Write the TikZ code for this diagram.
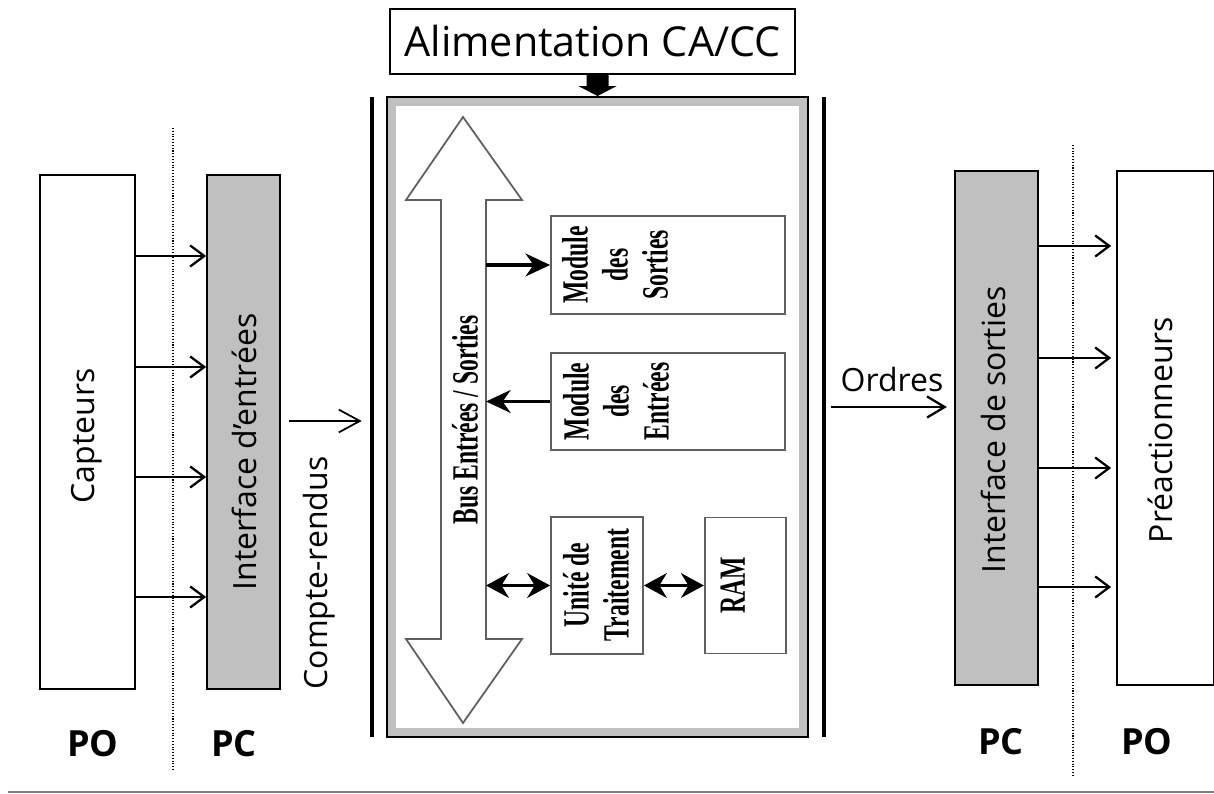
\documentclass[tikz,border=0pt]{standalone}
\usepackage{fontspec}
\setmainfont{Open Sans}
\newfontfamily\narrowserif[FakeStretch=0.64]{Liberation Serif}
\usetikzlibrary{arrows.meta,positioning}

\definecolor{boxgray}{RGB}{192,192,192}
\definecolor{edgegray}{RGB}{95,95,95}

\tikzset{
  part/.style = {draw = black, line width = 1.3pt, minimum width = 1.9cm,
                 minimum height = 10.28cm, inner sep = 0pt},
  iface/.style = {part, fill = boxgray},
  module/.style = {draw = edgegray, line width = 1pt, inner sep = 0pt},
  bar/.style = {fill = black, minimum width = 2.8pt, minimum height = 12.8cm,
                inner sep = 0pt},
  txt/.style = {font = \fontsize{18.2}{20}\selectfont},
  zone/.style = {font = \bfseries\fontsize{20.5}{22}\selectfont},
  modtext/.style = {font = \narrowserif\bfseries\fontsize{21}{22.7}\selectfont,
                    align = center, rotate = 90, inner sep = 0pt},
  divider/.style = {densely dotted, line width = 0.6pt},
  sig/.style = {-{Straight Barb[length = 8pt, width = 12pt]}, line width = 1.3pt},
  report/.style = {-{Straight Barb[length = 12pt, width = 13pt]}, line width = 1pt},
  order/.style = {-{Straight Barb[length = 10pt, width = 12pt]}, line width = 1.3pt},
  busout/.style = {-{Stealth[length = 14pt, width = 13pt]}, line width = 2pt},
  duplex/.style = {{Stealth[length = 13pt, width = 14pt]}-{Stealth[length = 13pt, width = 14pt]},
                   line width = 2pt}
}

\begin{document}
\begin{tikzpicture}[
    line join = miter % sharp corners on the arrows
    ]
  \useasboundingbox (0,0) rectangle (24.28,15.88);

  % power supply
  \node[draw, line width = 1.3pt, minimum width = 8.1cm, minimum height = 1.3cm,
        font = \fontsize{23.5}{25}\selectfont] (alim) at (11.85,15.05) {Alimentation CA/CC};

  % automate: grey frame, white inside
  \node[draw = black, line width = 1.1pt, fill = boxgray, minimum width = 8.42cm,
        minimum height = 12.8cm] (cpu) at (11.95,7.54) {};
  \fill[white] ([shift = {(0.2,0.2)}]cpu.south west) rectangle ([shift = {(-0.2,-0.2)}]cpu.north east);

  \node[bar] (barl) at (7.44,7.54) {};
  \node[bar] (barr) at (16.48,7.54) {};

  % supply arrow
  \coordinate (pw) at (alim.south -| cpu.north);
  \fill ([xshift = -0.22cm]pw) -- ([xshift = 0.22cm]pw) -- ([shift = {(0.22,-0.22)}]pw)
    -- ([shift = {(0.38,-0.22)}]pw) -- (cpu.north) -- ([shift = {(-0.38,-0.22)}]pw)
    -- ([shift = {(-0.22,-0.22)}]pw) -- cycle;

  % bus
  \draw[edgegray, line width = 1pt, fill = white] (9.26,13.54) -- (10.44,11.88) -- (9.72,11.88)
    -- (9.72,3.10) -- (10.44,3.10) -- (9.26,1.42) -- (8.12,3.10) -- (8.82,3.10)
    -- (8.82,11.88) -- (8.12,11.88) -- cycle;
  \coordinate (busr) at (9.72,7.5);
  \node[modtext] (t_bus) at (9.30,7.48) {Bus Entrées / Sorties};

  % modules
  \node[module, minimum width = 4.68cm, minimum height = 1.96cm] (mod_out) at (13.36,10.58) {};
  \node[modtext] (t_out) at (12.30,10.58) {Module\\des\\Sorties};
  \node[module, minimum width = 4.68cm, minimum height = 1.94cm] (mod_in) at (13.36,7.85) {};
  \node[modtext] (t_in) at (12.32,7.85) {Module\\des\\Entrées};
  \node[module, minimum width = 1.84cm, minimum height = 2.74cm] (unite) at (11.94,4.17) {};
  \node[modtext] (t_unite) at (11.92,4.18) {Unité de\\Traitement};
  \node[module, minimum width = 1.62cm, minimum height = 2.72cm, right = 1.2cm of unite] (ram) {};
  \node[modtext] (t_ram) at ([xshift = -0.25cm]ram.center) {RAM};

  \draw[busout] (busr |- mod_out.west) -- (mod_out.west);
  \draw[busout] (mod_in.west) -- (busr |- mod_in.west);
  \draw[duplex] (busr |- unite.west) -- (unite.west);
  \draw[duplex] (unite.east) -- (ram.west |- unite.east);

  % input side
  \node[part] (capteurs) at (1.75,7.24) {};
  \node[iface, minimum width = 1.46cm, right = 1.4cm of capteurs] (iface_in) {};
  \node[txt, rotate = 90] (t_capt) at (1.74,7.16) {Capteurs};
  \node[txt, rotate = 90] (t_iin) at (4.88,6.84) {Interface d'entrées};
  \draw[divider] (3.46,13.32) -- (3.46,0.48);
  \foreach \y in {10.76,8.54,6.34,3.94}
    \draw[sig] (capteurs.east |- 0,\y) -- (iface_in.west |- 0,\y);
  \draw[report, shorten <= 0.16cm, shorten >= 0.15cm] (iface_in.east |- 0,7.46) -- (barl.west |- 0,7.46);
  \node[txt, rotate = 90] (t_cr) at (6.38,4.42) {Compte-rendus};

  % output side
  \node[iface, minimum width = 1.66cm] (iface_out) at (19.93,7.32) {};
  \node[part, minimum width = 1.94cm, right = 1.54cm of iface_out] (preact) {};
  \node[txt, rotate = 90] (t_iout) at (19.86,7.28) {Interface de sorties};
  \node[txt, rotate = 90] (t_pre) at (23.2,7.28) {Préactionneurs};
  \draw[divider] (21.46,12.98) -- (21.46,0.38);
  \foreach \y in {10.96,8.72,6.52,4.14}
    \draw[sig, shorten >= 0.1cm] (iface_out.east |- 0,\y) -- (preact.west |- 0,\y);
  \draw[order, shorten <= 0.09cm, shorten >= 0.14cm] (barr.east |- 0,7.74) -- (iface_out.west |- 0,7.74);
  \node[txt] (t_ord) at (17.84,8.28) {Ordres};

  % PO / PC
  \node[zone] (po_l) at (1.86,1.0) {PO};
  \node[zone] (pc_l) at (4.68,1.0) {PC};
  \node[zone] (pc_r) at (20.02,1.04) {PC};
  \node[zone] (po_r) at (22.94,1.04) {PO};

  \draw[gray, line width = 1pt] (0.16,0.04) -- (24.28,0.04);
\end{tikzpicture}
\end{document}
